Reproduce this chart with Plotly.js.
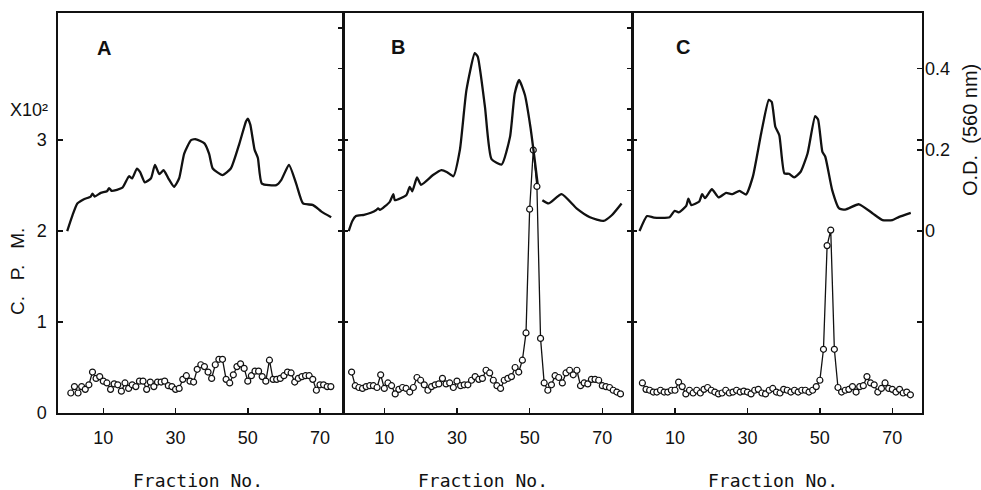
<!DOCTYPE html>
<html>
<head>
<meta charset="utf-8">
<script src="https://cdn.plot.ly/plotly-3.0.1.min.js"></script>
<style>html,body{margin:0;padding:0;background:#fff;}#chart{width:981px;height:490px;}</style>
</head>
<body>
<div id="chart"></div>
<script>
// ---- Data ----
var panelLabels = ["A", "B", "C"];
var xTickVals = [10, 30, 50, 70];
var cpmTickVals = [0, 1, 2, 3];
var cpmTickText = ["0", "1", "2", "3"];
var odTickVals = [0, 0.1, 0.2, 0.3, 0.4, 0.5];
var odLabelVals = [0, 0.2, 0.4];
var odLabelText = ["0", "0.2", "0.4"];
var odMinorVals = [0.1, 0.3, 0.5];

// C.P.M. (x10^2), open circles
var fracA = []; for (var i = 1; i <= 73; i++) fracA.push(i);
var cpmA = [0.22,0.29,0.22,0.29,0.26,0.31,0.45,0.38,0.40,0.35,0.33,0.26,0.32,0.31,0.24,0.33,0.27,0.31,0.29,0.35,
            0.35,0.26,0.34,0.29,0.34,0.34,0.35,0.30,0.29,0.26,0.27,0.37,0.41,0.35,0.34,0.48,0.53,0.51,0.45,0.38,
            0.53,0.59,0.59,0.37,0.33,0.42,0.51,0.54,0.49,0.35,0.41,0.46,0.46,0.40,0.35,0.58,0.37,0.37,0.38,0.41,
            0.45,0.44,0.34,0.38,0.40,0.41,0.41,0.37,0.25,0.31,0.31,0.29,0.29];
var fracB = []; for (var i = 1; i <= 75; i++) fracB.push(i);
var cpmB = [0.45,0.30,0.28,0.27,0.29,0.30,0.30,0.28,0.42,0.27,0.33,0.30,0.21,0.26,0.28,0.27,0.23,0.28,0.39,0.36,
            0.31,0.25,0.29,0.31,0.32,0.38,0.32,0.33,0.28,0.35,0.30,0.31,0.31,0.36,0.40,0.37,0.38,0.47,0.44,0.36,
            0.30,0.27,0.36,0.38,0.40,0.50,0.45,0.58,0.88,2.24,2.89,2.49,0.82,0.33,0.25,0.31,0.41,0.39,0.33,0.44,
            0.47,0.42,0.47,0.30,0.33,0.32,0.37,0.37,0.36,0.30,0.29,0.28,0.25,0.23,0.21];
var fracC = []; for (var i = 1; i <= 75; i++) fracC.push(i);
var cpmC = [0.33,0.26,0.25,0.23,0.23,0.25,0.23,0.23,0.25,0.25,0.34,0.29,0.21,0.25,0.22,0.25,0.22,0.26,0.28,0.25,
            0.23,0.21,0.22,0.25,0.22,0.23,0.25,0.23,0.24,0.23,0.21,0.25,0.26,0.22,0.21,0.25,0.27,0.23,0.22,0.26,
            0.25,0.23,0.25,0.23,0.25,0.25,0.23,0.25,0.29,0.36,0.70,1.84,2.01,0.70,0.28,0.23,0.25,0.26,0.29,0.23,
            0.29,0.30,0.40,0.33,0.31,0.23,0.27,0.33,0.27,0.26,0.23,0.26,0.22,0.23,0.20];

// O.D. (560 nm), solid curves
var odFracA = [0,1.5,2.8,4.5,6.5,7,7.6,9.3,11,11.6,12.3,15.3,17.1,18,19.3,20.2,21.5,23.2,24.3,25.5,26.7,28,29.6,31,32.4,34.3,35.7,38,39.3,40.3,43,45.3,47.7,49.5,50,50.7,51.9,52.8,53.9,57.9,59.3,61.4,63.4,65.3,68.1,70.4,73.1];
var odA = [0,0.04,0.068,0.078,0.085,0.092,0.085,0.094,0.098,0.106,0.099,0.107,0.135,0.13,0.154,0.145,0.12,0.13,0.163,0.14,0.15,0.13,0.109,0.13,0.191,0.224,0.226,0.216,0.19,0.154,0.138,0.154,0.216,0.27,0.277,0.262,0.20,0.18,0.117,0.113,0.126,0.163,0.117,0.068,0.064,0.048,0.034];
var odFracB = [0.2,1.2,2.2,4.4,6.3,7.8,8.3,8.8,11.5,12.5,12.9,16.1,17,17.7,19,20.1,23.4,25.7,27.3,29,30.8,32.6,34.9,35.7,37.7,39.5,42.3,44.6,45.9,47.1,48.7,50.2,51.4,52.2,52.8,53.5,55.2,58.8,62.9,66.6,70.3,72.6,75.3];
var odB = [0,0.025,0.037,0.04,0.045,0.052,0.056,0.052,0.072,0.091,0.076,0.089,0.109,0.098,0.132,0.114,0.138,0.150,0.145,0.135,0.2,0.347,0.438,0.43,0.306,0.177,0.164,0.232,0.339,0.372,0.335,0.257,0.175,0.117,null,0.076,0.068,0.091,0.056,0.034,0.025,0.039,0.068];
var odFracC = [0.2,2.3,4.2,8.5,9.9,11,13.1,13.7,14.5,16.7,17.5,18.3,20.2,22,24.1,25.9,27.8,29.6,31.5,33.8,35.9,36.7,37.7,38.8,40.2,41.5,42.9,44.7,46.6,48.7,49.5,50.7,51.5,53.4,55.3,57,60.8,64.5,67.3,70,71.9,75.1];
var odC = [0,0.037,0.033,0.034,0.05,0.046,0.062,0.08,0.064,0.073,0.091,0.081,0.103,0.083,0.094,0.091,0.099,0.09,0.134,0.241,0.323,0.318,0.257,0.236,0.142,0.141,0.132,0.146,0.191,0.283,0.275,0.195,0.183,0.101,0.056,0.053,0.066,0.044,0.027,0.027,0.035,0.045];

// ---- Traces ----
function odTrace(x, y, xa, ya) {
  return {x: x, y: y, xaxis: xa, yaxis: ya, type: 'scatter', mode: 'lines',
          line: {color: '#111', width: 2.3, shape: 'spline', smoothing: 0.5},
          connectgaps: false, hoverinfo: 'skip', showlegend: false};
}
function cpmTrace(x, y, xa, ya) {
  return {x: x, y: y, xaxis: xa, yaxis: ya, type: 'scatter', mode: 'lines+markers',
          line: {color: '#111', width: 1.3},
          marker: {symbol: 'circle', size: 6, color: '#fff', line: {color: '#111', width: 1.2}},
          hoverinfo: 'skip', showlegend: false};
}
var data = [
  odTrace(odFracA, odA, 'x', 'y2'), cpmTrace(fracA, cpmA, 'x', 'y'),
  odTrace(odFracB, odB, 'x2', 'y4'), cpmTrace(fracB, cpmB, 'x2', 'y3'),
  odTrace(odFracC, odC, 'x3', 'y6'), cpmTrace(fracC, cpmC, 'x3', 'y5')
];

// ---- Layout ----
var FONT = {family: 'Liberation Sans, Arial, sans-serif', size: 18, color: '#111'};
var cpmRange = [0, 4.396];
var odRange = [-0.448, 0.537];
var d1 = 0.3304, d2 = 0.6649;

function xAx(dom, anchor, range) {
  return {domain: dom, anchor: anchor, range: range, showgrid: false, zeroline: false,
          showline: true, linecolor: '#111', linewidth: 1.6, mirror: true,
          ticks: 'inside', ticklen: 5, tickwidth: 1.5, tickcolor: '#111',
          tickvals: xTickVals, ticktext: xTickVals.map(String), tickfont: FONT,
          ticklabelstandoff: 8, fixedrange: true};
}
function cpmAx(anchor, showLabels) {
  return {anchor: anchor, domain: [0, 1], range: cpmRange, showgrid: false, zeroline: false,
          showline: true, linecolor: '#111', linewidth: 1.6, mirror: 'ticks',
          ticks: 'inside', ticklen: 5, tickwidth: 1.5, tickcolor: '#111',
          tickvals: cpmTickVals, ticktext: cpmTickText, showticklabels: showLabels,
          tickfont: FONT, ticklabelstandoff: 6, fixedrange: true};
}
function odAx(anchor, over, vals, text) {
  var a = {anchor: anchor, overlaying: over, side: 'right', range: odRange, showgrid: false, zeroline: false,
          showline: false, ticks: 'inside', ticklen: 5, tickwidth: 1.5, tickcolor: '#111',
          tickvals: vals, showticklabels: !!text,
          tickfont: FONT, ticklabelstandoff: 2, fixedrange: true};
  if (text) a.ticktext = text;
  return a;
}

var PX = function (px) { return (px - 58) / 864; };
var PY = function (py) { return (413 - py) / 400; };
var ann = [];
var letterPos = [[104, 48], [398, 47], [683, 47]];
panelLabels.forEach(function (t, i) {
  ann.push({text: '<b>' + t + '</b>', x: PX(letterPos[i][0]), y: PY(letterPos[i][1]), xref: 'paper', yref: 'paper',
            showarrow: false, xanchor: 'center', yanchor: 'middle',
            font: {family: 'Liberation Sans, Arial, sans-serif', size: 20, color: '#111'}});
});
[198, 483, 773].forEach(function (px) {
  ann.push({text: 'Fraction No.', x: PX(px), y: PY(480), xref: 'paper', yref: 'paper', showarrow: false,
            xanchor: 'center', yanchor: 'middle',
            font: {family: 'DejaVu Sans Mono, monospace', size: 18, color: '#111'}});
});
ann.push({text: 'X10²', x: PX(29), y: PY(110), xref: 'paper', yref: 'paper', showarrow: false,
          xanchor: 'center', yanchor: 'middle', font: {family: 'Liberation Sans, Arial, sans-serif', size: 18, color: '#111'}});
ann.push({text: 'C.   P.   M.', x: PX(17), y: PY(272), xref: 'paper', yref: 'paper', showarrow: false, textangle: -90,
          xanchor: 'center', yanchor: 'middle', font: {family: 'Liberation Sans, Arial, sans-serif', size: 19, color: '#111'}});
ann.push({text: 'O.D.  (560 nm)', x: PX(970), y: PY(130), xref: 'paper', yref: 'paper', showarrow: false, textangle: -90,
          xanchor: 'center', yanchor: 'middle', font: {family: 'Liberation Sans, Arial, sans-serif', size: 20, color: '#111'}});

var layout = {
  width: 981, height: 490,
  margin: {l: 58, r: 59, t: 13, b: 77, pad: 0},
  paper_bgcolor: '#fff', plot_bgcolor: '#fff',
  showlegend: false,
  xaxis: xAx([0, d1], 'y', [-2.55, 76.5]),
  xaxis2: xAx([d1, d2], 'y3', [-1.24, 78.3]),
  xaxis3: xAx([d2, 1], 'y5', [-1.74, 78.2]),
  yaxis: cpmAx('x', true),
  yaxis2: odAx('x', 'y', odTickVals, null),
  yaxis3: cpmAx('x2', false),
  yaxis4: odAx('x2', 'y3', odTickVals, null),
  yaxis5: cpmAx('x3', false),
  yaxis6: odAx('x3', 'y5', odLabelVals, odLabelText),
  yaxis7: odAx('x3', 'y5', odMinorVals, null),
  annotations: ann
};

Plotly.newPlot('chart', data, layout, {displayModeBar: false, staticPlot: true});
</script>
</body>
</html>
